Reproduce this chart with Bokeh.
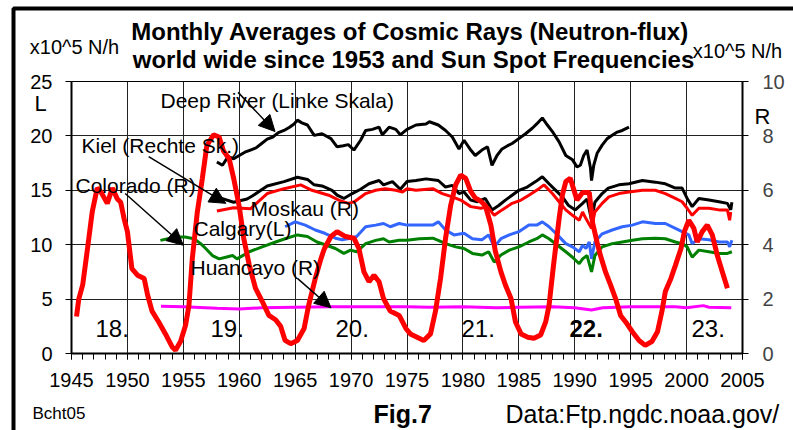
from bokeh.plotting import figure
from bokeh.models import (Range1d, LinearAxis, FixedTicker, Label, Arrow, NormalHead)
from bokeh.embed import file_html
from bokeh.resources import INLINE

# ---------------- data ----------------
# Sun spot frequencies (scaled, left axis units)
ss_year = [1945.45, 1945.65, 1946.0, 1946.4, 1946.85, 1947.3, 1947.6, 1948.2, 1948.65, 1949.1, 1949.4, 1949.7,
           1950.0, 1950.4, 1950.9, 1951.5, 1951.8, 1952.2, 1952.8, 1953.4, 1954.0, 1954.3, 1954.75, 1955.2,
           1955.5, 1955.8, 1956.25, 1956.7, 1957.1, 1957.7, 1958.2, 1958.6, 1959.1, 1959.5, 1960.0, 1960.4,
           1960.9, 1961.45, 1962.05, 1962.65, 1963.25, 1963.7, 1964.1, 1964.6, 1965.2, 1965.8, 1966.2, 1966.8,
           1967.3, 1967.6, 1968.2, 1968.75, 1969.5, 1970.25, 1970.7, 1971.15, 1971.6, 1972.05, 1972.5, 1972.9,
           1973.5, 1974.3, 1974.9, 1975.3, 1975.9, 1976.5, 1977.1, 1977.55, 1978.0, 1978.45, 1978.9, 1979.35,
           1979.8, 1980.25, 1980.7, 1981.1, 1981.6, 1982.0, 1982.5, 1982.9, 1983.4, 1983.8, 1984.3, 1984.7,
           1985.2, 1985.8, 1986.35, 1986.95, 1987.4, 1987.7, 1988.1, 1988.6, 1988.9, 1989.2, 1989.6, 1990.2,
           1990.7, 1991.3, 1991.6, 1992.0, 1992.3, 1992.75, 1993.2, 1993.65, 1994.1, 1994.55, 1995.15, 1995.75,
           1996.3, 1996.9, 1997.4, 1997.8, 1998.1, 1998.6, 1999.0, 1999.5, 1999.8, 2000.2, 2000.65, 2000.95,
           2001.4, 2001.85, 2002.3, 2002.75, 2003.2, 2003.65]
ss_val = [3.4, 5.0, 6.3, 9.4, 13.0, 15.2, 14.9, 13.8, 15.2, 14.2, 13.9, 12.4,
          11.2, 7.8, 7.2, 6.9, 5.4, 3.9, 2.9, 1.8, 0.6, 0.3, 1.1, 2.6,
          4.4, 8.7, 13.0, 16.1, 19.1, 20.1, 19.9, 18.6, 17.9, 16.1, 13.5, 10.6,
          8.1, 6.0, 4.8, 3.5, 3.1, 2.5, 1.2, 0.9, 1.2, 2.3, 4.4, 6.9,
          8.7, 9.6, 10.75, 11.2, 10.75, 10.6, 9.65, 7.5, 6.6, 7.2, 6.6, 5.05,
          3.9, 3.5, 2.3, 1.8, 1.5, 1.2, 1.8, 3.9, 6.9, 10.6, 13.6, 15.5,
          16.4, 16.1, 14.9, 14.3, 14.0, 13.6, 11.8, 9.4, 7.5, 6.3, 5.05, 2.9,
          1.8, 1.5, 1.4, 1.7, 2.9, 4.4, 8.1, 12.4, 14.6, 15.8, 16.1, 14.1,
          14.8, 14.8, 12.0, 10.2, 9.0, 7.5, 6.3, 5.05, 3.5, 2.9, 2.0, 1.2,
          0.75, 1.1, 2.0, 3.9, 5.7, 6.9, 8.1, 9.65, 11.2, 12.25, 11.5, 10.25,
          11.2, 11.8, 10.9, 9.0, 7.5, 6.0]

# Deep River (left scale, x10^5 N/h)
dr_year = [1958.0, 1958.5, 1959.0, 1959.5, 1960.0, 1960.5, 1961.0, 1961.5, 1962.0, 1962.5, 1963.0, 1963.5,
           1964.0, 1964.5, 1964.9, 1965.2, 1965.6, 1966.1, 1966.7, 1967.4, 1968.2, 1968.75, 1969.3, 1969.75,
           1970.25, 1970.85, 1971.3, 1971.9, 1972.5, 1972.8, 1973.4, 1974.0, 1974.4, 1975.0, 1975.8, 1976.7,
           1977.0, 1977.8, 1978.45, 1979.05, 1979.65, 1980.1, 1980.7, 1981.1, 1981.7, 1982.2, 1982.6, 1983.05,
           1983.5, 1984.0, 1984.4, 1985.0, 1985.6, 1986.2, 1986.6, 1987.1, 1987.55, 1988.0, 1988.6, 1989.2,
           1989.8, 1990.2, 1990.5, 1990.8, 1991.1, 1991.4, 1991.5, 1991.7, 1992.0, 1992.45, 1992.9, 1993.35,
           1993.8, 1994.25, 1994.85]
dr_val = [17.6, 17.3, 18.1, 17.9, 18.2, 18.5, 18.7, 18.9, 19.3, 19.7, 19.9, 20.3,
          20.5, 20.8, 21.1, 21.45, 21.2, 21.0, 20.05, 20.2, 19.75, 19.0, 19.1, 19.2,
          18.7, 19.6, 20.5, 20.6, 20.8, 20.1, 20.8, 20.6, 20.1, 20.6, 21.0, 21.1,
          21.3, 21.0, 20.5, 19.9, 18.8, 19.6, 18.7, 18.2, 18.7, 19.0, 17.3, 18.2,
          18.8, 19.1, 19.3, 19.75, 20.2, 20.7, 21.1, 21.65, 21.0, 20.4, 19.45, 18.2,
          17.8, 17.15, 17.3, 18.2, 18.7, 17.1, 15.9, 17.3, 18.4, 19.15, 19.75, 20.05,
          20.35, 20.5, 20.8]

# Kiel (right scale)
ki_year = [1958.0, 1959.5, 1960.7, 1961.2, 1962.5, 1964.0, 1965.2, 1966.1, 1966.7, 1967.4, 1968.3, 1968.75,
           1969.35, 1970.1, 1970.85, 1971.6, 1972.5, 1972.9, 1973.7, 1974.4, 1975.0, 1975.8, 1976.7, 1977.8,
           1978.45, 1979.05, 1979.65, 1980.1, 1980.7, 1981.3, 1982.0, 1982.6, 1983.2, 1983.8, 1984.4, 1985.0,
           1985.75, 1986.5, 1987.1, 1987.7, 1988.3, 1988.9, 1989.45, 1990.05, 1990.7, 1991.1, 1991.5, 1991.8,
           1992.45, 1993.0, 1993.95, 1994.85, 1996.05, 1997.2, 1998.1, 1999.0, 1999.6, 2000.05, 2000.5, 2001.1,
           2002.0, 2002.9, 2003.65, 2003.95, 2004.05]
ki_val = [5.76, 5.56, 5.68, 5.80, 6.16, 6.32, 6.48, 6.40, 6.20, 6.16, 6.00, 5.82,
          5.70, 5.88, 6.04, 6.24, 6.36, 6.20, 6.32, 6.04, 6.32, 6.36, 6.42, 6.36,
          6.12, 6.18, 5.88, 5.94, 5.64, 5.58, 5.70, 5.28, 5.44, 5.64, 5.82, 6.00,
          6.12, 6.32, 6.50, 6.24, 6.00, 5.76, 5.44, 5.28, 5.52, 5.68, 4.90, 5.56,
          5.88, 6.08, 6.20, 6.24, 6.36, 6.30, 6.24, 6.08, 6.08, 5.70, 5.40, 5.70,
          5.64, 5.58, 5.52, 5.28, 5.56]

# Moskau (right scale)
mo_year = [1958.0, 1959.5, 1961.0, 1962.5, 1964.0, 1965.5, 1966.5, 1968.0, 1968.9, 1969.75, 1970.3, 1971.3,
           1972.2, 1973.05, 1974.0, 1974.6, 1975.0, 1975.8, 1977.3, 1978.15, 1979.05, 1979.8, 1980.7, 1981.6,
           1982.2, 1982.8, 1983.5, 1984.4, 1985.2, 1985.9, 1986.8, 1987.25, 1988.0, 1988.6, 1989.2, 1989.8,
           1990.4, 1990.7, 1991.0, 1991.5, 1991.8, 1992.45, 1993.05, 1993.95, 1994.85, 1996.05, 1997.2, 1998.1,
           1999.0, 1999.6, 2000.05, 2000.5, 2001.1, 2002.0, 2002.9, 2003.65, 2003.85, 2003.95]
mo_val = [5.24, 5.36, 5.32, 5.88, 6.06, 6.20, 6.00, 5.82, 5.64, 5.52, 5.58, 5.88,
          6.00, 6.06, 6.00, 5.94, 6.06, 6.00, 6.06, 5.88, 5.76, 5.64, 5.40, 5.34,
          5.40, 5.08, 5.28, 5.52, 5.64, 5.82, 6.06, 6.20, 5.88, 5.58, 5.28, 5.08,
          4.90, 5.20, 4.96, 4.60, 5.20, 5.52, 5.76, 5.88, 5.94, 6.00, 6.00, 5.88,
          5.70, 5.58, 5.34, 5.08, 5.34, 5.34, 5.28, 5.28, 4.90, 5.20]

# Calgary (left scale)
ca_year = [1964.1, 1965.0, 1965.9, 1966.8, 1967.65, 1968.6, 1969.2, 1969.95, 1970.5, 1971.3, 1972.2, 1972.9,
           1973.5, 1974.3, 1975.0, 1976.1, 1977.3, 1977.8, 1978.45, 1979.2, 1980.1, 1980.85, 1981.7, 1982.3,
           1982.8, 1983.4, 1984.15, 1985.0, 1985.9, 1986.6, 1987.1, 1987.7, 1988.45, 1989.2, 1989.8, 1990.4,
           1990.7, 1991.0, 1991.3, 1991.5, 1991.8, 1992.45, 1993.35, 1994.25, 1995.15, 1996.05, 1997.2, 1998.1,
           1999.0, 1999.6, 2000.2, 2000.5, 2001.1, 2002.0, 2002.9, 2003.65, 2003.85, 2004.05]
ca_val = [11.65, 12.1, 11.8, 11.35, 11.05, 10.6, 10.45, 10.6, 10.75, 11.65, 11.8, 11.95,
          11.65, 11.95, 11.8, 11.8, 11.8, 12.1, 11.35, 10.9, 11.05, 10.55, 10.45, 10.9,
          9.8, 10.55, 10.9, 11.2, 11.8, 11.8, 12.1, 11.65, 10.9, 10.1, 9.8, 9.35,
          9.95, 9.65, 10.25, 8.7, 10.25, 11.0, 11.35, 11.65, 11.8, 12.1, 11.95, 11.95,
          11.5, 11.2, 10.9, 10.1, 10.55, 10.45, 10.25, 10.25, 9.8, 10.4]

# Colorado (right scale)
co_year = [1952.95, 1954.3, 1955.15, 1955.95, 1956.55, 1957.0, 1957.6, 1958.2, 1958.8, 1959.4, 1959.8, 1960.9,
           1962.05, 1963.25, 1964.1, 1965.2, 1966.1, 1966.95, 1967.8, 1968.6, 1969.35, 1969.95, 1970.5, 1971.3,
           1972.2, 1972.9, 1973.4, 1974.3, 1975.0, 1976.1, 1977.3, 1977.8, 1978.45, 1979.35, 1980.1, 1980.85,
           1981.7, 1982.3, 1982.8, 1983.4, 1984.15, 1985.0, 1985.9, 1986.6, 1987.1, 1987.7, 1988.45, 1989.2,
           1989.8, 1990.4, 1990.7, 1991.1, 1991.5, 1991.8, 1992.45, 1993.35, 1994.25, 1995.15, 1996.05, 1997.2,
           1998.1, 1999.0, 1999.6, 2000.05, 2000.5, 2001.1, 2002.0, 2002.9, 2003.65, 2004.05]
co_val = [4.16, 4.28, 4.28, 4.22, 4.04, 3.86, 3.60, 3.48, 3.54, 3.60, 3.48, 3.74,
          3.92, 4.10, 4.22, 4.36, 4.30, 4.10, 3.98, 3.86, 3.68, 3.80, 3.74, 4.04,
          4.16, 4.22, 4.10, 4.16, 4.16, 4.22, 4.24, 4.16, 4.04, 3.92, 3.86, 3.68,
          3.62, 3.74, 3.36, 3.62, 3.80, 3.92, 4.10, 4.22, 4.36, 4.22, 3.98, 3.74,
          3.54, 3.30, 3.48, 3.60, 3.00, 3.60, 3.92, 4.04, 4.10, 4.16, 4.22, 4.24,
          4.22, 4.10, 4.04, 3.92, 3.54, 3.80, 3.74, 3.68, 3.68, 3.74]

# Huancayo (right scale)
hu_year = [1953.0, 1955.0, 1958.0, 1960.0, 1962.0, 1965.0, 1968.0, 1970.0, 1975.0, 1977.0, 1980.0, 1983.0,
           1985.0, 1988.0, 1990.0, 1991.5, 1992.5, 1995.0, 1999.0, 2000.0, 2001.5, 2002.0, 2004.0]
hu_val = [1.74, 1.72, 1.66, 1.64, 1.68, 1.70, 1.72, 1.72, 1.72, 1.70, 1.72, 1.68,
          1.70, 1.72, 1.68, 1.60, 1.68, 1.72, 1.72, 1.68, 1.76, 1.70, 1.68]

cycle_labels = ["18.", "19.", "20.", "21.", "22.", "23."]
left_ticks = [0, 5, 10, 15, 20, 25]
right_ticks = [0, 2, 4, 6, 8, 10]
year_ticks = list(range(1945, 2006, 5))
year_minor = list(range(1945, 2006, 1))

# ---------------- layout constants (window px) ----------------
FONT = "Liberation Sans"
W, H = 793, 430
FL, FR, FT, FB = 71, 742, 81, 353   # plot frame in window px

p = figure(width=W, height=H,
           x_range=Range1d(1945, 2005), y_range=Range1d(0, 25),
           output_backend="svg", toolbar_location=None,
           min_border_left=FL, min_border_right=W - FR,
           min_border_top=FT, min_border_bottom=H - FB,
           background_fill_color="white", border_fill_color="white")
p.extra_y_ranges = {"r": Range1d(0, 10)}

p.outline_line_color = "black"
p.outline_line_width = 1

# axes
for ax in (p.xaxis[0], p.yaxis[0]):
    ax.axis_line_width = 2
    ax.axis_line_color = "black"
    ax.major_tick_line_color = "black"
    ax.major_tick_in = 0
    ax.major_tick_out = 6
    ax.major_label_text_font = FONT
    ax.major_label_text_font_size = "20px"
    ax.major_label_text_color = "black"

p.xaxis[0].ticker = FixedTicker(ticks=year_ticks, minor_ticks=year_minor)
p.xaxis[0].minor_tick_in = 0
p.xaxis[0].minor_tick_out = 6
p.xaxis[0].minor_tick_line_color = "black"
p.xaxis[0].major_label_standoff = 13

p.yaxis[0].ticker = FixedTicker(ticks=left_ticks)
p.yaxis[0].minor_tick_line_color = None
p.yaxis[0].major_label_standoff = 13

ra = LinearAxis(y_range_name="r", ticker=FixedTicker(ticks=right_ticks))
ra.axis_line_width = 2
ra.major_tick_in = 0
ra.major_tick_out = 6
ra.minor_tick_line_color = None
ra.major_label_text_font = FONT
ra.major_label_text_font_size = "20px"
ra.major_label_standoff = 14
p.add_layout(ra, "right")

# grid
p.xgrid.ticker = FixedTicker(ticks=year_ticks)
p.ygrid.ticker = FixedTicker(ticks=left_ticks)
for g in (p.xgrid[0], p.ygrid[0]):
    g.grid_line_color = "#222222"
    g.grid_line_width = 1

# series
p.line(dr_year, dr_val, line_color="black", line_width=3)
p.line(ki_year, ki_val, line_color="black", line_width=3, y_range_name="r")
p.line(mo_year, mo_val, line_color="#ff0000", line_width=3, y_range_name="r")
p.line(ca_year, ca_val, line_color="#3366ff", line_width=3)
p.line(co_year, co_val, line_color="#008000", line_width=3, y_range_name="r")
p.line(hu_year, hu_val, line_color="#ff00ff", line_width=3, y_range_name="r")
p.line(ss_year, ss_val, line_color="#ff0000", line_width=5)

# ---------------- texts inside the plot frame ----------------
def lab(text, cx, cy, size, align="left", bold=False):
    p.add_layout(Label(x=cx - FL, y=FB - cy, x_units="screen", y_units="screen",
                       text=text, text_font=FONT, text_font_size=size,
                       text_font_style="bold" if bold else "normal",
                       text_align=align, text_baseline="middle", text_color="black"))

cyc_x = [95, 210, 335, 461, 569, 691]
for t, cx in zip(cycle_labels, cyc_x):
    lab(t, cx, 328, "24px", "left", t == "22.")

lab("Deep River (Linke Skala)", 160, 100, "21px")
lab("Kiel (Rechte Sk.)", 81, 145, "21px")
lab("Colorado (R)", 75, 185, "21px")
lab("Moskau (R)", 250, 208, "21px")
lab("Calgary(L)", 193, 228, "21px")
lab("Huancayo (R)", 190, 267, "21px")

# arrows (data coordinates, left scale)
arrows = [((1959.9, 24.0), (1963.2, 20.4)),
          ((1951.9, 18.1), (1958.8, 13.8)),
          ((1949.8, 14.7), (1955.0, 9.95)),
          ((1965.2, 6.9), (1968.2, 4.2))]
for (x0, y0), (x1, y1) in arrows:
    p.add_layout(Arrow(end=NormalHead(size=16, fill_color="black", line_color="black"),
                       x_start=x0, y_start=y0, x_end=x1, y_end=y1,
                       line_color="black", line_width=1.5))

# ---------------- overlay page for texts outside the frame ----------------
q = figure(width=W, height=H, x_range=Range1d(0, W), y_range=Range1d(H, 0),
           output_backend="svg", toolbar_location=None,
           x_axis_location=None, y_axis_location=None, min_border=0,
           background_fill_color=None, border_fill_color=None,
           styles={"position": "absolute", "left": "0px", "top": "0px"})
q.outline_line_color = None
q.grid.visible = False

# outer chart border (left and top edges visible in the window)
q.line([13, 13, W + 10], [H + 10, 8, 8], line_color="black", line_width=4)

def qlab(text, cx, cy, size, align="left", bold=False):
    q.add_layout(Label(x=cx, y=cy, text=text, text_font=FONT, text_font_size=size,
                       text_font_style="bold" if bold else "normal",
                       text_align=align, text_baseline="middle", text_color="black"))

qlab("Monthly Averages of  Cosmic Rays (Neutron-flux)", 413, 31, "24px", "center", True)
qlab("world wide since 1953 and Sun Spot Frequencies", 413, 59, "24px", "center", True)
qlab("x10^5 N/h", 74, 46, "20px", "center")
qlab("x10^5 N/h", 737, 50, "20px", "center")
qlab("L", 40, 103, "22px", "center")
qlab("R", 762, 116, "22px", "center")
qlab("Bcht05", 32, 413, "17px")
qlab("Fig.7", 373, 413, "25px", "left", True)
qlab("Data:Ftp.ngdc.noaa.gov/", 505, 413, "25px")

open("out.html", "w").write(file_html([p, q], INLINE))
